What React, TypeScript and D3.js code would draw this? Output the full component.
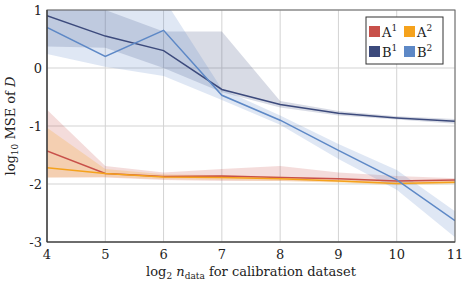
import React from 'react';
import * as d3 from 'd3';

// x values: log2 n_data
const xs = [4, 5, 6, 7, 8, 9, 10, 11];

// log10 MSE means
const a1Mean = [-1.43, -1.82, -1.87, -1.86, -1.89, -1.91, -1.95, -1.93];
const a2Mean = [-1.72, -1.82, -1.88, -1.89, -1.91, -1.95, -1.99, -1.97];
const b1Mean = [0.9, 0.55, 0.3, -0.37, -0.63, -0.78, -0.86, -0.92];
const b2Mean = [0.7, 0.2, 0.65, -0.47, -0.9, -1.42, -1.93, -2.63];

// band bounds
const a1Low = [-1.89, -1.89, -1.93, -1.95, -1.95, -1.96, -1.99, -1.97];
const a1High = [-0.72, -1.69, -1.8, -1.74, -1.69, -1.8, -1.86, -1.9];
const a2Low = [-1.89, -1.88, -1.92, -1.93, -1.95, -1.98, -2.02, -2.0];
const a2High = [-1.03, -1.74, -1.83, -1.85, -1.87, -1.92, -1.96, -1.94];
const b1Low = [0.37, 0.35, 0.0, -0.42, -0.68, -0.82, -0.89, -0.96];
const b1High = [1.4, 1.0, 0.63, 0.63, -0.57, -0.74, -0.83, -0.88];
const b2Low = [0.24, 0.02, -0.14, -0.55, -0.98, -1.57, -2.1, -2.92];
const b2High = [1.3, 1.15, 1.2, -0.36, -0.82, -1.31, -1.76, -2.47];

const xTicks = [4, 5, 6, 7, 8, 9, 10, 11];
const yTicks = [1, 0, -1, -2, -3];

const series = [
  { key: 'A1', base: 'A', sup: '1', color: '#c8504a', mean: a1Mean, low: a1Low, high: a1High, op: 0.2 },
  { key: 'A2', base: 'A', sup: '2', color: '#f5a21c', mean: a2Mean, low: a2Low, high: a2High, op: 0.22 },
  { key: 'B1', base: 'B', sup: '1', color: '#3c4a7c', mean: b1Mean, low: b1Low, high: b1High, op: 0.2 },
  { key: 'B2', base: 'B', sup: '2', color: '#5d88c6', mean: b2Mean, low: b2Low, high: b2High, op: 0.2 },
];

const W = 468;
const H = 286;
const margin = { top: 10, right: 13, bottom: 44, left: 47 };
const FONT = '"DejaVu Serif", serif';

export default function App() {
  const x = d3.scaleLinear().domain([4, 11]).range([margin.left, W - margin.right]);
  const y = d3.scaleLinear().domain([-3, 1]).range([H - margin.bottom, margin.top]);

  const line = d3.line<number>()
    .x((_, i) => x(xs[i]))
    .y(d => y(d));

  const bandArea = (low: number[], high: number[]) =>
    d3.area<number>()
      .x((_, i) => x(xs[i]))
      .y0((_, i) => y(low[i]))
      .y1((_, i) => y(high[i]))(xs);

  const [x0, x1] = x.range();
  const [y0, y1] = [y(1), y(-3)];

  return (
    <svg width={W} height={H} style={{ position: 'absolute', left: 0, top: 0, background: 'white', fontFamily: FONT }}>
      <defs>
        <clipPath id="plot">
          <rect x={x0} y={y0} width={x1 - x0} height={y1 - y0} />
        </clipPath>
      </defs>

      {/* grid */}
      {xTicks.map(t => (
        <line key={'gx' + t} x1={x(t)} x2={x(t)} y1={y0} y2={y1} stroke="#d3d3d3" strokeWidth={1} />
      ))}
      {yTicks.map(t => (
        <line key={'gy' + t} x1={x0} x2={x1} y1={y(t)} y2={y(t)} stroke="#d3d3d3" strokeWidth={1} />
      ))}

      <g clipPath="url(#plot)">
        {series.map(s => (
          <path key={'b' + s.key} d={bandArea(s.low, s.high) || ''} fill={s.color} fillOpacity={s.op} stroke="none" />
        ))}
        {series.map(s => (
          <path key={'l' + s.key} d={line(s.mean) || ''} fill="none" stroke={s.color} strokeWidth={1.5} />
        ))}
      </g>

      {/* frame */}
      <rect x={x0} y={y0} width={x1 - x0} height={y1 - y0} fill="none" stroke="#666" strokeWidth={1} />
      <line x1={x0} x2={x1} y1={y1} y2={y1} stroke="#333" strokeWidth={1.2} />
      <line x1={x0} x2={x0} y1={y0} y2={y1} stroke="#333" strokeWidth={1.2} />

      {/* tick labels */}
      {xTicks.map(t => (
        <text key={'tx' + t} x={x(t)} y={y1 + 17} textAnchor="middle" fontSize={13} fill="#222">{t}</text>
      ))}
      {yTicks.map(t => (
        <text key={'ty' + t} x={x0 - 5} y={y(t) + 5} textAnchor="end" fontSize={13} fill="#222">{t}</text>
      ))}

      {/* axis titles */}
      <text x={(x0 + x1) / 2} y={H - 10} textAnchor="middle" fontSize={13} fill="#222">
        log<tspan fontSize={9} dy={3}>2</tspan>
        <tspan dy={-3}> </tspan><tspan fontStyle="italic">n</tspan>
        <tspan fontSize={9} dy={3}>data</tspan>
        <tspan dy={-3}> for calibration dataset</tspan>
      </text>
      <text transform={`translate(15,${(y0 + y1) / 2}) rotate(-90)`} textAnchor="middle" fontSize={13} fill="#222">
        log<tspan fontSize={9} dy={3}>10</tspan>
        <tspan dy={-3}> MSE of </tspan><tspan fontStyle="italic">D</tspan>
      </text>

      {/* legend */}
      <g transform="translate(366,17)">
        <rect x={0} y={0} width={77} height={47} fill="white" stroke="#333" strokeWidth={1} />
        {series.map((s, i) => {
          const col = i % 2;
          const row = Math.floor(i / 2);
          const lx = 3 + col * 35;
          const ly = 9 + row * 20;
          return (
            <g key={'lg' + s.key} transform={`translate(${lx},${ly})`}>
              <rect x={0} y={0} width={11} height={11} fill={s.color} />
              <text x={13} y={11} fontSize={13} fill="#222">
                {s.base}<tspan fontSize={9} dy={-6}>{s.sup}</tspan>
              </text>
            </g>
          );
        })}
      </g>
    </svg>
  );
}
